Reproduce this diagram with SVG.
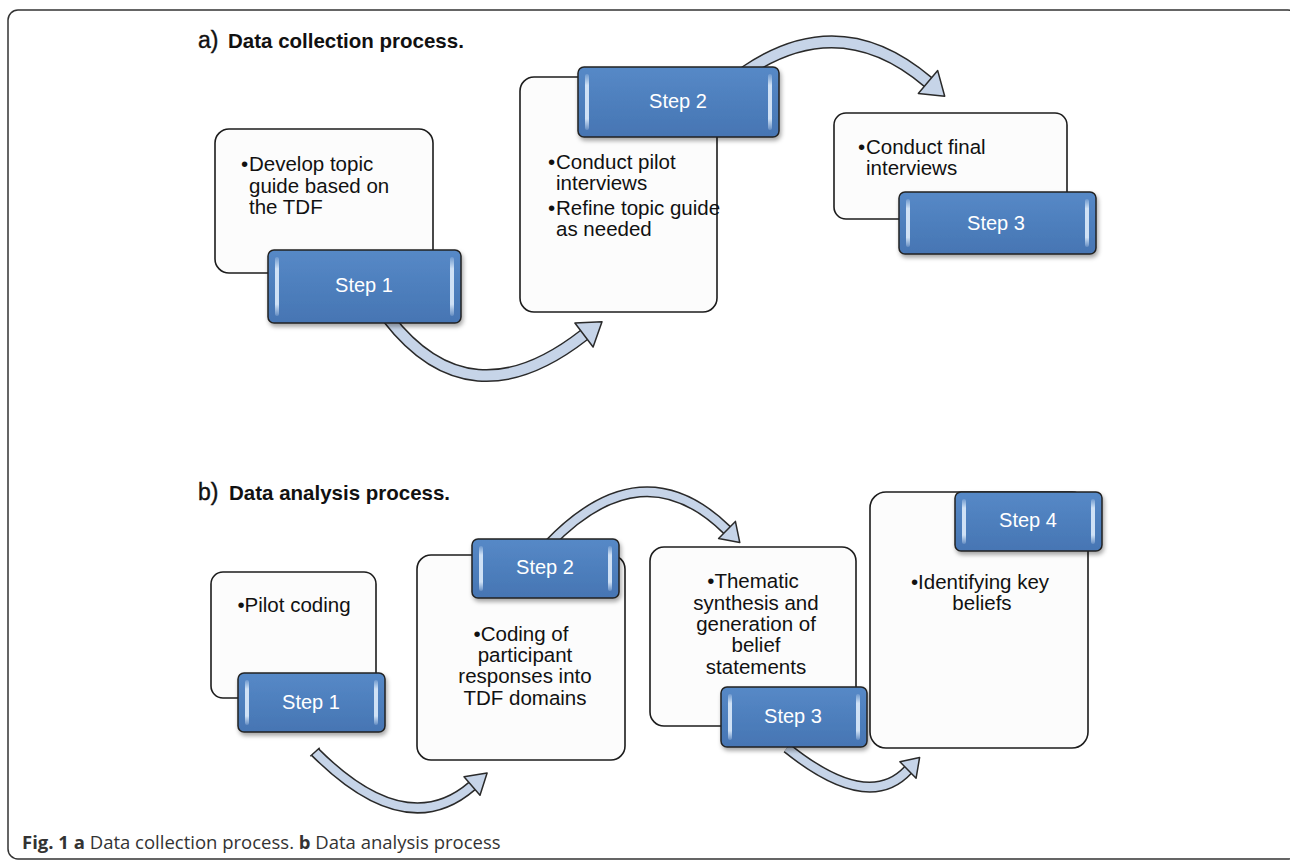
<svg xmlns="http://www.w3.org/2000/svg" width="1290" height="860" viewBox="0 0 1290 860">
  <defs>
    <linearGradient id="blue" x1="0" y1="0" x2="0" y2="1">
      <stop offset="0" stop-color="#5689c7"/>
      <stop offset="1" stop-color="#4675b3"/>
    </linearGradient>
    <linearGradient id="hlg" x1="0" y1="0" x2="0" y2="1">
      <stop offset="0" stop-color="#d6e6f8" stop-opacity="0.2"/>
      <stop offset="0.2" stop-color="#d6e6f8" stop-opacity="0.95"/>
      <stop offset="0.8" stop-color="#d6e6f8" stop-opacity="0.95"/>
      <stop offset="1" stop-color="#d6e6f8" stop-opacity="0.2"/>
    </linearGradient>
    <filter id="sh" x="-10%" y="-10%" width="130%" height="140%">
      <feDropShadow dx="1.5" dy="3" stdDeviation="2" flood-color="#000" flood-opacity="0.35"/>
    </filter>
    <style>
      .frame{fill:#fff;stroke:#333;stroke-width:1.5}
      .box{fill:#fcfcfc;stroke:#1c1c1c;stroke-width:1.6}
      .step{fill:url(#blue);stroke:#222;stroke-width:1.5;filter:url(#sh)}
      .hl{fill:url(#hlg)}
      .t{font-family:"Liberation Sans",Arial,sans-serif;font-size:20.5px;fill:#111}
      .c{text-anchor:middle}
      .s{font-family:"Liberation Sans",Arial,sans-serif;font-size:20px;fill:#fff;text-anchor:middle}
      .title{font-family:"Liberation Sans",Arial,sans-serif;font-size:20.5px;font-weight:bold;fill:#111}
      .lab{font-family:"Liberation Sans",Arial,sans-serif;font-size:23px;fill:#111;stroke:#111;stroke-width:0.4}
      .cap{font-family:"Open Sans","Liberation Sans",sans-serif;font-size:18.5px;fill:#333}
      .bo{fill:none;stroke:#2a2a2a;stroke-width:13}
      .bi{fill:none;stroke:#c6d4e8;stroke-width:10}
      .bo2{fill:none;stroke:#2a2a2a;stroke-width:11}
      .bi2{fill:none;stroke:#c6d4e8;stroke-width:8}
      .head{fill:#c6d4e8;stroke:#2a2a2a;stroke-width:1.5;stroke-linejoin:round}
    </style>
  </defs>

  <rect class="frame" x="8" y="10" width="1290" height="849" rx="10"/>

  <g id="connectors">
    <!-- panel a -->
    <path class="bo" d="M388 318 Q470 424 584 335"/>
    <path class="bi" d="M388 318 Q470 424 584 335"/>
    <polygon class="head" points="602,321.7 593.1,347 574.9,323"/>
    <path class="bo" d="M745 72 Q840 7 928 82"/>
    <path class="bi" d="M745 72 Q840 7 928 82"/>
    <polygon class="head" points="944.7,96.3 918.3,93.4 937.7,70.6"/>
    <!-- panel b -->
    <path class="bo2" d="M315 752 Q406 843 472 786"/>
    <path class="bi2" d="M315 752 Q406 843 472 786"/>
    <line x1="310.3" y1="756.3" x2="319.7" y2="747.7" stroke="#2a2a2a" stroke-width="1.5"/>
    <polygon class="head" points="487.1,772.9 480,795.2 464,776.8"/>
    <path class="bo2" d="M548 545 Q642 446.5 727 530"/>
    <path class="bi2" d="M548 545 Q642 446.5 727 530"/>
    <polygon class="head" points="739.8,542.6 718.6,538.6 735.4,521.4"/>
    <path class="bo2" d="M787 748 Q868 813 908 770"/>
    <path class="bi2" d="M787 748 Q868 813 908 770"/>
    <polygon class="head" points="919.6,757.5 916.1,778.2 899.9,761.8"/>
  </g>

  <g id="title-a">
    <text class="lab" x="198" y="48">a)</text>
    <text class="title" x="228" y="48">Data collection process.</text>
  </g>

  <g id="a-step1">
    <rect class="box" x="215" y="129" width="218" height="144" rx="14"/>
    <text class="t" x="241" y="171">•</text>
    <text class="t" x="249" y="171">Develop topic</text>
    <text class="t" x="249" y="192.5">guide based on</text>
    <text class="t" x="249" y="214">the TDF</text>
    <rect class="step" x="268" y="250" width="193" height="73" rx="6"/>
    <rect class="hl" x="275" y="257" width="4" height="59" rx="2"/>
    <rect class="hl" x="450" y="257" width="4" height="59" rx="2"/>
    <text class="s" x="364" y="292">Step 1</text>
  </g>

  <g id="a-step2">
    <rect class="box" x="520" y="77" width="197" height="235" rx="14"/>
    <text class="t" x="548" y="169">•</text>
    <text class="t" x="556" y="169">Conduct pilot</text>
    <text class="t" x="556" y="190">interviews</text>
    <text class="t" x="548" y="215">•</text>
    <text class="t" x="556" y="215">Refine topic guide</text>
    <text class="t" x="556" y="236">as needed</text>
    <rect class="step" x="578" y="67" width="201" height="70" rx="6"/>
    <rect class="hl" x="585" y="74" width="4" height="56" rx="2"/>
    <rect class="hl" x="768" y="74" width="4" height="56" rx="2"/>
    <text class="s" x="678" y="108">Step 2</text>
  </g>

  <g id="a-step3">
    <rect class="box" x="834" y="113" width="233" height="106" rx="12"/>
    <text class="t" x="858" y="154">•</text>
    <text class="t" x="866" y="154">Conduct final</text>
    <text class="t" x="866" y="175">interviews</text>
    <rect class="step" x="899" y="192" width="197" height="62" rx="6"/>
    <rect class="hl" x="906" y="199" width="4" height="48" rx="2"/>
    <rect class="hl" x="1085" y="199" width="4" height="48" rx="2"/>
    <text class="s" x="996" y="230">Step 3</text>
  </g>

  <g id="title-b">
    <text class="lab" x="198" y="500">b)</text>
    <text class="title" x="229" y="500">Data analysis process.</text>
  </g>

  <g id="b-step1">
    <rect class="box" x="211" y="572" width="165" height="126" rx="12"/>
    <text class="t c" x="294" y="612">•Pilot coding</text>
    <rect class="step" x="238" y="673" width="147" height="59" rx="6"/>
    <rect class="hl" x="245" y="680" width="4" height="45" rx="2"/>
    <rect class="hl" x="374" y="680" width="4" height="45" rx="2"/>
    <text class="s" x="311" y="709">Step 1</text>
  </g>

  <g id="b-step2">
    <rect class="box" x="417" y="555" width="208" height="205" rx="14"/>
    <text class="t c" x="521" y="641">•Coding of</text>
    <text class="t c" x="525" y="662">participant</text>
    <text class="t c" x="525" y="683">responses into</text>
    <text class="t c" x="525" y="705">TDF domains</text>
    <rect class="step" x="472" y="539" width="147" height="59" rx="6"/>
    <rect class="hl" x="479" y="546" width="4" height="45" rx="2"/>
    <rect class="hl" x="608" y="546" width="4" height="45" rx="2"/>
    <text class="s" x="545" y="574">Step 2</text>
  </g>

  <g id="b-step3">
    <rect class="box" x="650" y="547" width="206" height="179" rx="14"/>
    <text class="t c" x="753" y="588">•Thematic</text>
    <text class="t c" x="756" y="610">synthesis and</text>
    <text class="t c" x="756" y="631">generation of</text>
    <text class="t c" x="756" y="652">belief</text>
    <text class="t c" x="756" y="674">statements</text>
    <rect class="step" x="721" y="687" width="146" height="60" rx="6"/>
    <rect class="hl" x="728" y="694" width="4" height="46" rx="2"/>
    <rect class="hl" x="856" y="694" width="4" height="46" rx="2"/>
    <text class="s" x="793" y="723">Step 3</text>
  </g>

  <g id="b-step4">
    <rect class="box" x="870" y="492" width="218" height="256" rx="16"/>
    <text class="t c" x="980" y="589">•Identifying key</text>
    <text class="t c" x="982" y="610">beliefs</text>
    <rect class="step" x="955" y="492" width="147" height="59" rx="6"/>
    <rect class="hl" x="962" y="499" width="4" height="45" rx="2"/>
    <rect class="hl" x="1091" y="499" width="4" height="45" rx="2"/>
    <text class="s" x="1028" y="527">Step 4</text>
  </g>

  <g id="caption">
    <text class="cap" x="22" y="849"><tspan font-weight="bold">Fig. 1</tspan> <tspan font-weight="bold">a</tspan> Data collection process. <tspan font-weight="bold">b</tspan> Data analysis process</text>
  </g>
</svg>
